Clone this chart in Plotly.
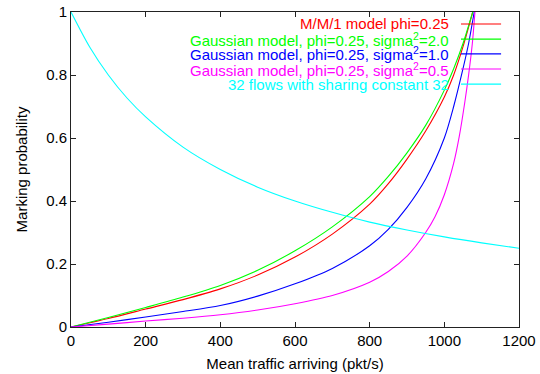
import plotly.graph_objects as go

# Values
x_mm1 = [0, 100, 200, 300, 400, 500, 600, 700, 800, 850, 900, 950, 1000, 1025, 1050, 1076]
y_mm1 = [0, 0.027, 0.057, 0.087, 0.121, 0.165, 0.222, 0.295, 0.39, 0.455, 0.533, 0.622, 0.73, 0.8, 0.89, 1.0]

x_g20 = [0, 100, 200, 300, 400, 500, 600, 700, 800, 850, 900, 950, 1000, 1025, 1050, 1076]
y_g20 = [0, 0.03, 0.062, 0.095, 0.132, 0.18, 0.242, 0.318, 0.414, 0.478, 0.553, 0.64, 0.752, 0.82, 0.9, 1.0]

x_g10 = [0, 100, 200, 300, 400, 500, 600, 700, 800, 850, 900, 950, 1000, 1025, 1050, 1065, 1080]
y_g10 = [0, 0.015, 0.032, 0.049, 0.068, 0.098, 0.137, 0.186, 0.258, 0.31, 0.38, 0.47, 0.6, 0.7, 0.82, 0.9, 1.0]

x_g05 = [0, 100, 200, 300, 400, 500, 600, 700, 800, 850, 900, 950, 975, 1000, 1025, 1040, 1055, 1065, 1075, 1082]
y_g05 = [0, 0.009, 0.019, 0.028, 0.039, 0.054, 0.074, 0.1, 0.142, 0.176, 0.225, 0.3, 0.35, 0.42, 0.52, 0.605, 0.715, 0.8, 0.9, 1.0]

x_sh = [0, 50, 100, 150, 200, 300, 400, 500, 600, 700, 800, 900, 1000, 1100, 1200]
y_sh = [1.0, 0.889, 0.8, 0.727, 0.667, 0.571, 0.5, 0.444, 0.4, 0.364, 0.333, 0.308, 0.286, 0.267, 0.25]

series_names = [
    "M/M/1 model phi=0.25",
    "Gaussian model, phi=0.25, sigma<sup>2</sup>=2.0",
    "Gaussian model, phi=0.25, sigma<sup>2</sup>=1.0",
    "Gaussian model, phi=0.25, sigma<sup>2</sup>=0.5",
    "32 flows with sharing constant 32",
]
series_colors = ["#ff0000", "#00ff00", "#0000ff", "#ff00ff", "#00ffff"]
series_x = [x_mm1, x_g20, x_g10, x_g05, x_sh]
series_y = [y_mm1, y_g20, y_g10, y_g05, y_sh]

x_ticks = [0, 200, 400, 600, 800, 1000, 1200]
y_ticks = [0, 0.2, 0.4, 0.6, 0.8, 1]
y_ticklabels = ["0", "0.2", "0.4", "0.6", "0.8", "1"]

FONT = "Liberation Sans, Arial, Helvetica, sans-serif"
FS = 15

fig = go.Figure()
for name, col, xs, ys in zip(series_names, series_colors, series_x, series_y):
    fig.add_trace(go.Scatter(x=xs, y=ys, mode="lines", name=name,
                             line=dict(color=col, width=1.1, shape="spline", smoothing=0.8),
                             showlegend=False, cliponaxis=True))

# Manual gnuplot-style key: right-aligned text with sample line on the right
key_y = [0.962, 0.914, 0.867, 0.819, 0.771]
for name, col, ky in zip(series_names, series_colors, key_y):
    fig.add_annotation(xref="paper", yref="paper", x=0.8475, y=ky, text=name,
                       showarrow=False, xanchor="right", yanchor="middle",
                       font=dict(family=FONT, size=FS, color=col))
    fig.add_shape(type="line", xref="paper", yref="paper", x0=0.8705, x1=0.96,
                  y0=ky, y1=ky, line=dict(color=col, width=1.1))

axis_common = dict(showline=True, linecolor="#222222", linewidth=1, mirror="ticks",
                   ticks="inside", ticklen=5, tickcolor="#222222", showgrid=False,
                   zeroline=False, automargin=False,
                   tickfont=dict(family=FONT, size=FS, color="#000000"))

fig.update_layout(
    width=540, height=374,
    margin=dict(l=71, r=21, t=12, b=47),
    paper_bgcolor="white", plot_bgcolor="white",
    xaxis=dict(range=[0, 1200], tickvals=x_ticks,
               title=dict(text="Mean traffic arriving (pkt/s)", standoff=10,
                          font=dict(family=FONT, size=FS, color="#000000")),
               **axis_common),
    yaxis=dict(range=[0, 1], tickvals=y_ticks, ticktext=y_ticklabels,
               title=dict(text="Marking probability", standoff=14,
                          font=dict(family=FONT, size=FS, color="#000000")),
               **axis_common),
)

fig.write_html("out.html")
